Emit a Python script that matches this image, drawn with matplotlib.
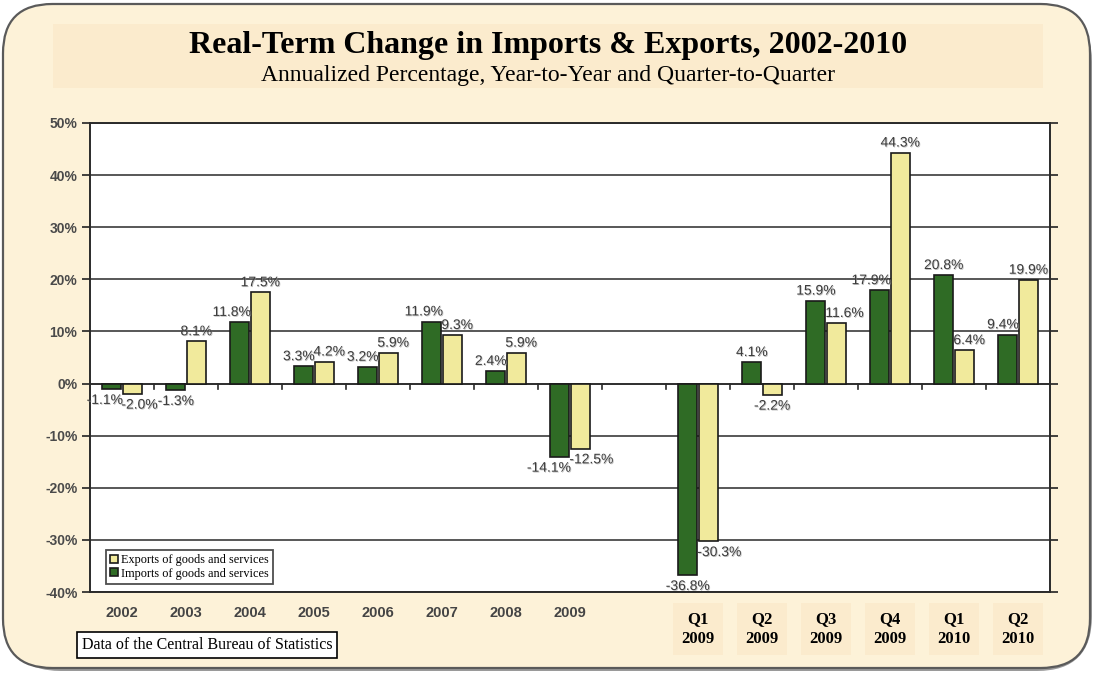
import numpy as np
import matplotlib
matplotlib.use("Agg")
import matplotlib.pyplot as plt
from matplotlib.patches import FancyBboxPatch, Rectangle
from matplotlib.lines import Line2D
import matplotlib.patheffects as pe
import matplotlib.transforms as mtransforms

# --- data -----------------------------------------------------------------
annual_labels = ["2002", "2003", "2004", "2005", "2006", "2007", "2008", "2009"]
quarter_labels = ["Q1\n2009", "Q2\n2009", "Q3\n2009", "Q4\n2009", "Q1\n2010", "Q2\n2010"]

imports = [-1.1, -1.3, 11.8, 3.3, 3.2, 11.9, 2.4, -14.1,
           -36.8, 4.1, 15.9, 17.9, 20.8, 9.4]
exports = [-2.0, 8.1, 17.5, 4.2, 5.9, 9.3, 5.9, -12.5,
           -30.3, -2.2, 11.6, 44.3, 6.4, 19.9]

y_ticks = [50, 40, 30, 20, 10, 0, -10, -20, -30, -40]

# --- style ------------------------------------------------------------------
BG = "#FDF2D8"
BAND = "#FBEBCD"
GREEN = "#2F6B25"
YELLOW = "#F1EA9C"
EDGE = "#1A1A1A"
LABEL_GRAY = "#3C3C3C"

W, H = 1096, 675
fig = plt.figure(figsize=(W / 100, H / 100), dpi=100)
fig.patch.set_facecolor("white")

def fx(px):
    return px / W

def fy(py):
    return 1 - py / H

# rounded cream panel with soft shadow
shadow = FancyBboxPatch((fx(6), fy(671)), fx(1086), fy(7) - fy(671),
                        boxstyle="round,pad=0,rounding_size=0.05",
                        transform=fig.transFigure, facecolor="#9A9A9A",
                        edgecolor="none", mutation_aspect=W / H, zorder=0)
panel = FancyBboxPatch((fx(3), fy(668)), fx(1087), fy(4) - fy(668),
                       boxstyle="round,pad=0,rounding_size=0.045",
                       transform=fig.transFigure, facecolor=BG,
                       edgecolor="#5A5A5A", linewidth=1.6,
                       mutation_aspect=W / H, zorder=1)
fig.patches.extend([shadow, panel])

# title band
fig.patches.append(Rectangle((fx(53), fy(88)), fx(1043) - fx(53), fy(24) - fy(88),
                             transform=fig.transFigure, facecolor=BAND,
                             edgecolor="none", zorder=2))
fig.text(fx(548), fy(45), "Real-Term Change in Imports & Exports, 2002-2010",
         ha="center", va="center", fontsize=23, fontweight="bold",
         family="Liberation Serif", color="black", zorder=3)
fig.text(fx(548), fy(76), "Annualized Percentage, Year-to-Year and Quarter-to-Quarter",
         ha="center", va="center", fontsize=17, family="Liberation Serif",
         color="black", zorder=3)

# --- axes -------------------------------------------------------------------
ax = fig.add_axes([fx(90), fy(592), fx(1050) - fx(90), fy(123) - fy(592)])
ax.set_facecolor("white")
ax.set_zorder(5)

n_annual = len(annual_labels)
pos = np.r_[np.arange(n_annual), np.arange(len(quarter_labels)) + n_annual + 1]
bw = 0.30
x_imp = pos - bw / 2 - 0.01
x_exp = pos + bw / 2 + 0.01

ax.bar(x_imp, imports, width=bw, color=GREEN, edgecolor=EDGE,
       linewidth=1.2, zorder=3, label="Imports of goods and services")
ax.bar(x_exp, exports, width=bw, color=YELLOW, edgecolor=EDGE,
       linewidth=1.2, zorder=3, label="Exports of goods and services")

ax.set_xlim(-0.5, pos[-1] + 0.5)
ax.set_ylim(-40, 50)
ax.set_yticks(y_ticks)
ax.set_yticklabels([f"{t}%" for t in y_ticks], fontsize=10, fontweight="bold",
                   family="Liberation Sans", color="#4A4A4A")
ax.tick_params(axis="y", which="both", direction="out", length=6, width=1.2,
               color="#222222", right=True, labelright=False, pad=3)
ax.set_xticks([])
ax.yaxis.grid(True, color="#2A2A2A", linewidth=1.1, zorder=1)
ax.set_axisbelow(True)
for s in ax.spines.values():
    s.set_color("#2A2A2A")
    s.set_linewidth(1.4)

# zero line and separator ticks between groups
ax.axhline(0, color="#2A2A2A", linewidth=1.2, zorder=2)
bounds = np.arange(-0.5, pos[-1] + 0.5, 1.0)[1:]
for b in bounds:
    ax.plot([b, b], [0, -1.0], color="#2A2A2A", linewidth=1.2, zorder=2)

# value labels: the shorter bar of a pair gets its label pushed outward
shadow_fx = [pe.withSimplePatchShadow(offset=(0.6, -0.6), shadow_rgbFace="#9A9A9A", alpha=0.6)]

def put_label(x, v, ha):
    off = 0.6 if v >= 0 else -0.7
    ax.text(x, v + off, f"{v:.1f}%", ha=ha,
            va="bottom" if v >= 0 else "top", fontsize=10,
            family="Liberation Sans", color=LABEL_GRAY, zorder=6,
            path_effects=shadow_fx)

for xi, xe, vi, ve in zip(x_imp, x_exp, imports, exports):
    imp_pos = (xi, "center")
    exp_pos = (xe, "center")
    if np.sign(vi) == np.sign(ve):
        close = abs(vi - ve) < 4
        if close or abs(ve) > abs(vi):
            imp_pos = (xi + bw / 2 + 0.02, "right")
        if close or abs(vi) > abs(ve):
            exp_pos = (xe - bw / 2 - 0.02, "left")
    put_label(imp_pos[0], vi, imp_pos[1])
    put_label(exp_pos[0], ve, exp_pos[1])

# x category labels
trans = mtransforms.blended_transform_factory(ax.transData, fig.transFigure)
for x, lab in zip(pos[:n_annual], annual_labels):
    ax.text(x, fy(613), lab, transform=trans, ha="center", va="center",
            fontsize=10.5, fontweight="bold", family="Liberation Sans",
            color="#444444", clip_on=False)
for x, lab in zip(pos[n_annual:], quarter_labels):
    ax.text(x, fy(629), lab, transform=trans, ha="center", va="center",
            fontsize=12, fontweight="bold", family="Liberation Serif",
            color="black", linespacing=1.3, clip_on=False,
            bbox=dict(boxstyle="square,pad=0.5", facecolor=BAND, edgecolor="none"))

# legend
handles = [Line2D([], [], marker="s", linestyle="none", markersize=6,
                  markerfacecolor=YELLOW, markeredgecolor=EDGE, markeredgewidth=1.2),
           Line2D([], [], marker="s", linestyle="none", markersize=6,
                  markerfacecolor=GREEN, markeredgecolor=EDGE, markeredgewidth=1.2)]
leg = ax.legend(handles, ["Exports of goods and services", "Imports of goods and services"],
                loc="lower left", bbox_to_anchor=(0.014, 0.012), frameon=True,
                fancybox=False, prop={"family": "Liberation Serif", "size": 8.8},
                handlelength=0.6, handletextpad=0.3, borderpad=0.35,
                labelspacing=0.1, borderaxespad=0.2)
leg.get_frame().set_edgecolor("#222222")
leg.get_frame().set_linewidth(1.3)
leg.set_zorder(7)

# source note
fig.text(fx(207), fy(645), "Data of the Central Bureau of Statistics",
         ha="center", va="center", fontsize=11.5, family="Liberation Serif",
         color="black", zorder=8,
         bbox=dict(boxstyle="square,pad=0.3", facecolor="white",
                   edgecolor="black", linewidth=1.2))

fig.savefig("out.png", dpi=100, facecolor=fig.get_facecolor())
